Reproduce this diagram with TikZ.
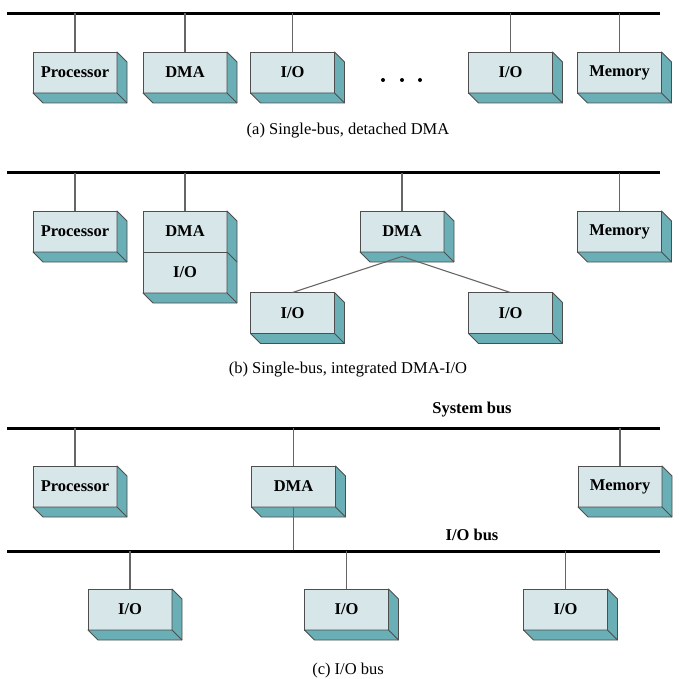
\documentclass[tikz,border=0pt]{standalone}
\usepackage{fontspec}
\setmainfont{Liberation Serif}
\definecolor{frontc}{HTML}{D6E6E9}
\definecolor{sidec}{HTML}{6BAFB6}
\definecolor{edgec}{HTML}{4E4E4E}
\definecolor{connc}{HTML}{666666}
\newcommand\mydepth[2]{%
  \draw[depth] (#1.north east) -- ([shift={(10,10)}]#1.north east) -- ([shift={(10,10)}]#2.south east) -- ([shift={(10,10)}]#2.south west) -- (#2.south west) -- (#2.south east) -- cycle;
  \draw[depth,fill=none] (#2.south east) -- ([shift={(10,10)}]#2.south east);}
\begin{document}
\begin{tikzpicture}[x=1pt,y=-1pt,
  box/.style={draw=edgec, line width=0.9pt, fill=frontc, minimum width=84pt, minimum height=41pt, inner sep=0pt, outer sep=0pt, font=\fontsize{16.5}{18}\selectfont\bfseries},
  depth/.style={draw=edgec, line width=0.9pt, fill=sidec, line join=round},
  bus/.style={line width=3pt, black},
  conn/.style={draw=connc, line width=1.1pt},
  captext/.style={font=\fontsize{16.5}{19}\selectfont, inner sep=0pt},
  buslabel/.style={font=\fontsize{16.5}{18}\selectfont\bfseries, inner sep=0pt},
  dotnode/.style={circle, fill=black, inner sep=0pt, minimum size=4pt}]
\useasboundingbox (0,0) rectangle (678,679);

% ---------------- (a) ----------------
\coordinate (aL) at (7,13.5);
\coordinate (aR) at (660,13.5);
\node[box] (aP) at (75,72.5) {Processor};
\node[box] (aD) at (185,72.5) {DMA};
\node[box] (aI1) at (292.5,72.5) {I/O};
\node[box] (aI2) at (510.5,72.5) {I/O};
\node[box] (aM) at (619.5,72.5) {Memory};
\foreach \n in {aP,aD,aI1,aI2,aM}{\mydepth{\n}{\n}}
\draw[bus] (aL) -- (aR);
\foreach \n in {aP,aD,aI1,aI2,aM}{\draw[conn] (\n.north) -- (\n.north |- aL);}
\node[dotnode] (d1) at (383,80) {};
\node[dotnode] (d2) at (402,80) {};
\node[dotnode] (d3) at (420,80) {};
\node[captext] (capa) at (348,131) {(a) Single-bus, detached DMA};

% ---------------- (b) ----------------
\coordinate (bL) at (7,172.5);
\coordinate (bR) at (660,172.5);
\node[box] (bP) at (75,231.5) {Processor};
\node[box] (bD1) at (185,231.5) {DMA};
\node[box] (bI1) at (185,272.5) {I/O};
\node[box] (bD2) at (402,231.5) {DMA};
\node[box] (bM) at (619.5,231.5) {Memory};
\node[box] (bI2) at (292.5,313) {I/O};
\node[box] (bI3) at (510.5,313) {I/O};
\foreach \n in {bP,bD2,bM,bI2,bI3}{\mydepth{\n}{\n}}
\mydepth{bD1}{bI1}
\draw[depth,fill=none] (bD1.south east) -- ([shift={(10,10)}]bD1.south east);
\draw[bus] (bL) -- (bR);
\foreach \n in {bP,bD1,bD2,bM}{\draw[conn] (\n.north) -- (\n.north |- bL);}
\coordinate (apex) at ([shift={(0,4.5)}]bD2.south);
\draw[conn] (apex) -- (bI2.north);
\draw[conn] (apex) -- (bI3.north);
\node[captext] (capb) at (348,370) {(b) Single-bus, integrated DMA-I/O};

% ---------------- (c) ----------------
\node[buslabel] (sbl) at (472,410) {System bus};
\coordinate (cL) at (7,428);
\coordinate (cR) at (660,428);
\node[box] (cP) at (75,486.5) {Processor};
\node[box] (cD) at (293.5,486.5) {DMA};
\node[box] (cM) at (620,486.5) {Memory};
\foreach \n in {cP,cD,cM}{\mydepth{\n}{\n}}
\draw[bus] (cL) -- (cR);
\foreach \n in {cP,cD,cM}{\draw[conn] (\n.north) -- (\n.north |- cL);}
\node[buslabel] (iobl) at (472,535) {I/O bus};
\coordinate (iL) at (7,551);
\coordinate (iR) at (660,551);
\draw[conn] (cD.south) -- (cD.south |- iL);
\node[box] (cI1) at (130,609.5) {I/O};
\node[box] (cI2) at (346.5,609.5) {I/O};
\node[box] (cI3) at (565.5,609.5) {I/O};
\foreach \n in {cI1,cI2,cI3}{\mydepth{\n}{\n}}
\draw[bus] (iL) -- (iR);
\foreach \n in {cI1,cI2,cI3}{\draw[conn] (\n.north) -- (\n.north |- iL);}
\node[captext] (capc) at (348,671) {(c) I/O bus};
\end{tikzpicture}
\end{document}
